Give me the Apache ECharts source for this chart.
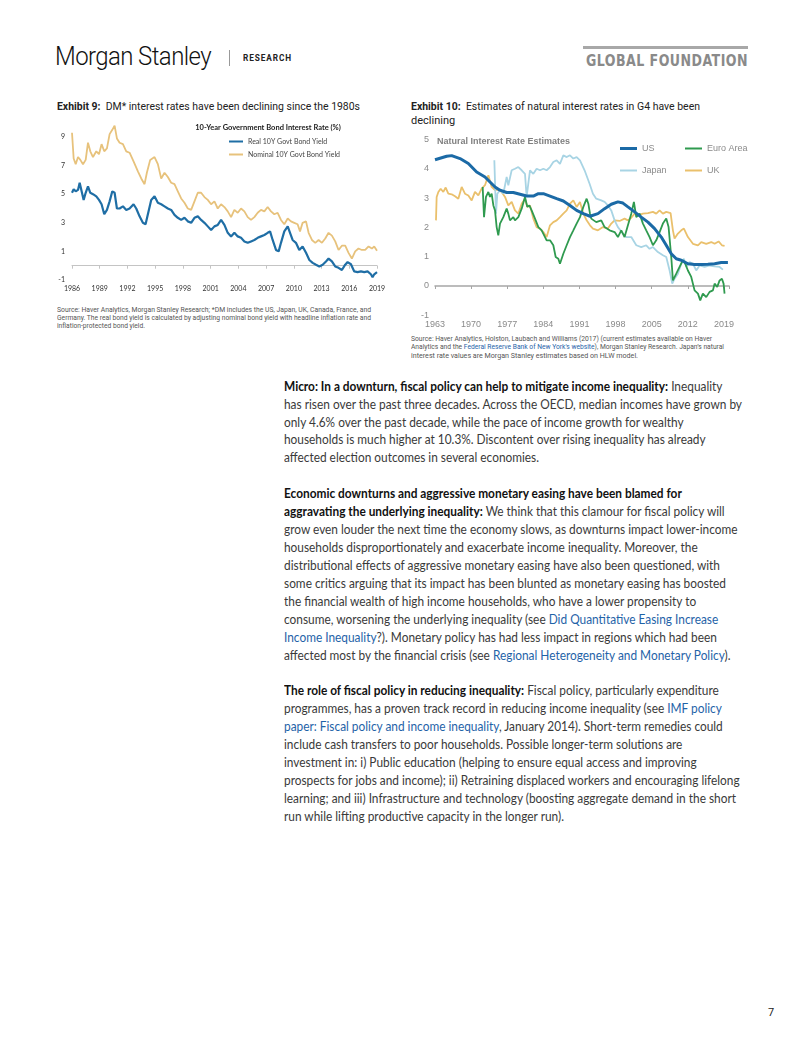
<!DOCTYPE html>
<html><head><meta charset="utf-8">
<script src="https://cdn.jsdelivr.net/npm/echarts/dist/echarts.min.js"></script>
<style>
body{margin:0;width:802px;height:1037px;position:relative;background:#fff;overflow:hidden;font-family:Lato,sans-serif;}
.t{position:absolute;white-space:nowrap;transform-origin:0 50%;}
.ex{font-family:Roboto,sans-serif;font-size:11px;line-height:14px;color:#222;}
.src{font-family:Roboto,sans-serif;font-size:7px;line-height:9px;color:#555;}
.body{font-family:Lato,sans-serif;font-size:12.5px;line-height:18px;color:#3a3a3a;}
.body b{color:#111;font-weight:700;}
.lk{color:#1f63a8;}
#c1{position:absolute;left:50px;top:110px;width:340px;height:190px;}
#c2{position:absolute;left:405px;top:128px;width:350px;height:205px;}
</style></head>
<body>
<div class="t" style="left:55px;top:43px;font:300 25px Roboto,sans-serif;line-height:28px;color:#111;letter-spacing:-0.6px" data-w="156">Morgan Stanley</div>
<div style="position:absolute;left:229px;top:50px;width:1px;height:16px;background:#999"></div>
<div class="t" style="left:243px;top:52px;font:700 9px Roboto,sans-serif;line-height:12px;color:#222;letter-spacing:1px" data-w="49">RESEARCH</div>
<div style="position:absolute;left:583px;top:46px;width:165px;height:3px;background:#a8a8a8"></div>
<div class="t" style="left:586px;top:52px;font:700 15px 'DejaVu Sans Condensed','Liberation Sans Narrow',Roboto,sans-serif;line-height:18px;color:#8a8a8a;letter-spacing:0.5px" data-w="162">GLOBAL FOUNDATION</div>

<div class="t ex" style="left:57px;top:100px" data-w="303"><b>Exhibit 9:</b>&nbsp; DM* interest rates have been declining since the 1980s</div>
<div class="t ex" style="left:411px;top:100px" data-w="289"><b>Exhibit 10:</b>&nbsp; Estimates of natural interest rates in G4 have been</div>
<div class="t ex" style="left:411px;top:114px">declining</div>

<div id="c1"></div>
<div id="c2"></div>

<div class="t src" style="left:57px;top:305.5px" data-w="314">Source: Haver Analytics, Morgan Stanley Research; *DM includes the US, Japan, UK, Canada, France, and</div>
<div class="t src" style="left:57px;top:314px" data-w="314">Germany. The real bond yield is calculated by adjusting nominal bond yield with headline inflation rate and</div>
<div class="t src" style="left:57px;top:322px" data-w="88">inflation-protected bond yield.</div>

<div class="t src" style="left:411px;top:334.5px" data-w="301">Source: Haver Analytics, Holston, Laubach and Williams (2017) (current estimates available on Haver</div>
<div class="t src" style="left:411px;top:343px" data-w="313">Analytics and the <span class="lk">Federal Reserve Bank of New York's website</span>), Morgan Stanley Research. Japan’s natural</div>
<div class="t src" style="left:411px;top:351.5px" data-w="227">interest rate values are Morgan Stanley estimates based on HLW model.</div>

<div id="bodytext"></div>
<div class="t" style="left:768px;top:1006px;font:400 11px Roboto,sans-serif;line-height:14px;color:#222">7</div>

<script>
// ---------- Exhibit 9 data: [year, %] ----------
const c1YearTicks = {min: 1986, max: 2019, step: 3};
const realYield = [[1986.00,5.1],[1986.18,5.35],[1986.40,5.2],[1986.65,5.3],[1986.83,5.8],[1987.04,5.85],[1987.26,4.6],[1987.48,5.1],[1987.73,5.55],[1987.98,5.1],[1988.27,5.0],[1988.63,4.85],[1988.92,4.6],[1989.20,4.3],[1989.49,3.6],[1989.78,3.9],[1990.07,4.5],[1990.36,5.2],[1990.61,5.1],[1990.86,4.0],[1991.15,4.0],[1991.51,4.15],[1991.87,3.9],[1992.23,4.0],[1992.66,4.3],[1992.95,4.0],[1993.31,3.45],[1993.67,3.0],[1993.96,2.9],[1994.21,3.6],[1994.57,4.6],[1994.93,4.85],[1995.29,4.4],[1995.65,4.3],[1996.01,4.15],[1996.37,4.0],[1996.73,3.9],[1997.09,3.55],[1997.45,3.35],[1997.81,3.2],[1998.17,3.35],[1998.53,3.1],[1998.89,3.0],[1999.25,3.35],[1999.61,3.45],[1999.97,3.2],[2000.33,3.0],[2000.69,2.75],[2001.05,2.5],[2001.41,2.75],[2001.77,2.85],[2002.13,3.2],[2002.49,2.85],[2002.85,2.3],[2003.21,2.05],[2003.57,2.3],[2003.93,2.05],[2004.29,1.95],[2004.65,1.7],[2005.01,1.6],[2005.37,1.7],[2005.73,1.8],[2006.09,1.95],[2006.45,2.05],[2006.81,2.15],[2007.17,2.3],[2007.43,2.4],[2007.71,1.8],[2008.07,1.1],[2008.36,1.0],[2008.61,1.6],[2008.97,2.4],[2009.34,2.75],[2009.59,2.3],[2009.87,1.8],[2010.23,1.6],[2010.59,1.1],[2010.95,1.35],[2011.32,0.9],[2011.68,0.4],[2012.04,0.2],[2012.40,0.07],[2012.76,-0.05],[2013.12,0.07],[2013.48,0.3],[2013.76,0.5],[2014.12,0.3],[2014.48,-0.05],[2014.84,-0.15],[2015.20,-0.3],[2015.56,0.07],[2015.82,0.25],[2016.18,0.1],[2016.54,-0.4],[2016.90,-0.45],[2017.26,-0.4],[2017.62,-0.45],[2017.98,-0.4],[2018.34,-0.6],[2018.52,-0.8],[2018.70,-0.6],[2019.00,-0.45]];
const nominalYield = [[1986.00,9.3],[1986.18,7.5],[1986.40,7.1],[1986.65,7.6],[1986.90,7.4],[1987.19,7.1],[1987.48,7.4],[1987.73,8.6],[1987.98,8.0],[1988.27,7.6],[1988.63,8.0],[1988.92,7.8],[1989.20,8.5],[1989.49,8.0],[1989.78,8.2],[1990.07,9.2],[1990.36,9.5],[1990.61,9.8],[1990.86,8.9],[1991.15,8.6],[1991.51,8.5],[1991.87,8.0],[1992.23,7.9],[1992.66,7.3],[1993.13,6.6],[1993.49,6.1],[1993.85,5.7],[1994.10,6.5],[1994.46,7.4],[1994.93,7.6],[1995.29,7.1],[1995.65,6.1],[1996.01,6.5],[1996.37,6.2],[1996.73,5.8],[1997.09,5.7],[1997.45,5.2],[1997.81,4.7],[1998.17,4.4],[1998.53,4.0],[1998.89,3.9],[1999.25,4.5],[1999.61,5.1],[1999.97,5.1],[2000.33,4.8],[2000.69,4.6],[2001.05,4.3],[2001.41,4.5],[2001.77,4.0],[2002.13,4.3],[2002.49,4.1],[2002.85,3.8],[2003.21,3.4],[2003.57,3.9],[2003.93,3.7],[2004.29,4.0],[2004.65,3.8],[2005.01,3.4],[2005.37,3.2],[2005.73,3.4],[2006.09,3.7],[2006.45,3.9],[2006.81,3.8],[2007.17,4.1],[2007.53,3.8],[2007.89,3.6],[2008.25,3.7],[2008.61,3.2],[2008.97,2.9],[2009.34,3.3],[2009.69,3.1],[2010.05,3.0],[2010.41,2.9],[2010.67,2.4],[2010.95,3.0],[2011.32,3.1],[2011.60,2.3],[2011.96,1.8],[2012.32,1.6],[2012.68,1.8],[2013.04,1.6],[2013.40,1.9],[2013.76,2.3],[2014.12,2.1],[2014.48,1.7],[2014.84,1.1],[2015.20,1.4],[2015.56,1.4],[2015.92,0.9],[2016.28,0.5],[2016.64,1.0],[2017.00,1.2],[2017.36,1.1],[2017.72,1.1],[2018.09,1.35],[2018.45,1.2],[2018.70,1.35],[2019.00,1.05]];

// ---------- Exhibit 10 data: [year, %] ----------
const c2YearTicks = {min: 1963, max: 2020, step: 7};
const usRate = [[1963.0,4.31],[1965.26,4.43],[1966.23,4.45],[1967.85,4.35],[1969.46,4.18],[1971.07,3.89],[1972.69,3.72],[1973.66,3.55],[1974.63,3.38],[1975.60,3.27],[1976.89,3.19],[1978.18,3.19],[1979.47,3.13],[1980.76,3.07],[1982.06,3.07],[1983.03,3.15],[1984.00,3.15],[1985.29,3.07],[1986.58,2.98],[1987.87,2.90],[1989.16,2.75],[1990.45,2.58],[1991.75,2.47],[1993.04,2.38],[1994.58,2.47],[1995.87,2.64],[1997.16,2.79],[1998.45,2.87],[1999.42,2.83],[2000.39,2.70],[2001.68,2.53],[2002.97,2.35],[2004.27,2.18],[2005.56,1.96],[2006.85,1.67],[2007.82,1.39],[2008.79,1.10],[2009.76,0.93],[2010.73,0.88],[2012.02,0.76],[2013.31,0.73],[2014.60,0.73],[2015.89,0.74],[2017.19,0.76],[2018.48,0.80],[2019.77,0.80]];
const euroRate = [[1972.24,3.38],[1972.50,2.35],[1972.88,3.04],[1973.34,3.21],[1973.66,3.04],[1973.98,3.15],[1974.31,2.75],[1974.63,2.58],[1974.95,2.01],[1975.27,1.73],[1975.60,2.13],[1976.24,2.35],[1976.89,2.64],[1977.21,2.47],[1977.53,2.24],[1978.18,2.35],[1978.50,2.24],[1979.15,2.35],[1979.80,2.64],[1980.44,3.04],[1980.89,2.70],[1981.28,2.75],[1981.73,2.58],[1982.38,2.30],[1983.03,2.01],[1983.67,1.90],[1984.00,1.96],[1984.64,1.56],[1985.29,1.56],[1985.93,1.39],[1986.39,0.99],[1986.90,0.93],[1987.22,0.76],[1987.55,0.82],[1987.87,1.10],[1988.52,1.39],[1989.16,1.67],[1989.81,1.90],[1990.45,2.13],[1991.10,2.35],[1991.75,2.70],[1992.39,2.98],[1992.72,2.81],[1993.04,2.47],[1993.29,2.30],[1994.25,2.18],[1995.22,2.24],[1995.87,2.01],[1996.84,1.90],[1997.81,1.84],[1998.45,1.67],[1999.10,1.90],[1999.74,1.67],[2000.39,2.07],[2001.04,2.47],[2001.55,2.87],[2002.01,2.35],[2002.65,2.47],[2003.30,2.13],[2003.94,1.90],[2004.59,1.67],[2005.24,1.39],[2005.88,1.56],[2006.53,1.84],[2007.17,2.13],[2007.82,2.30],[2008.27,2.01],[2008.79,0.99],[2009.11,0.19],[2009.76,0.42],[2010.40,0.65],[2011.05,0.88],[2011.50,0.76],[2012.02,0.53],[2012.66,0.31],[2013.31,-0.15],[2013.96,-0.26],[2014.41,-0.49],[2014.92,-0.26],[2015.57,-0.38],[2016.22,-0.20],[2016.86,-0.15],[2017.19,0.08],[2017.70,-0.03],[2018.16,0.19],[2018.61,0.25],[2018.93,0.08],[2019.12,-0.26]];
const japanRate = [[1974.50,4.29],[1974.82,2.47],[1975.08,3.15],[1975.60,3.27],[1976.24,3.15],[1976.89,3.72],[1977.21,3.44],[1977.86,3.95],[1978.50,4.00],[1979.15,4.06],[1979.80,3.95],[1980.44,3.83],[1980.76,3.04],[1981.41,3.95],[1982.06,3.83],[1982.70,4.00],[1983.35,3.95],[1984.00,4.00],[1984.64,3.95],[1985.29,4.06],[1985.93,4.23],[1986.58,4.29],[1987.22,4.17],[1987.87,4.46],[1988.52,4.40],[1989.16,4.46],[1989.81,4.35],[1990.45,4.40],[1991.10,4.29],[1991.99,3.95],[1992.96,3.49],[1993.61,3.15],[1994.25,2.98],[1995.22,2.92],[1995.87,2.87],[1996.51,2.75],[1997.16,2.58],[1997.81,2.24],[1998.45,2.01],[1999.42,1.79],[2000.07,1.67],[2001.04,1.67],[2002.01,1.39],[2002.97,1.33],[2003.94,1.39],[2004.59,1.27],[2005.24,1.33],[2006.20,1.16],[2007.17,1.05],[2007.82,0.99],[2008.47,0.53],[2008.98,0.08],[2009.43,0.25],[2010.08,0.42],[2010.73,0.76],[2011.24,0.93],[2011.70,0.65],[2012.34,0.82],[2012.99,0.76],[2013.63,0.53],[2014.28,0.70],[2015.25,0.65],[2016.22,0.70],[2017.19,0.67],[2018.16,0.65],[2018.80,0.56]];
const ukRate = [[1963.19,2.24],[1963.32,3.04],[1963.65,3.21],[1964.10,3.32],[1964.61,3.21],[1965.07,3.36],[1965.58,3.15],[1966.23,3.13],[1966.88,3.06],[1967.52,2.98],[1968.17,3.38],[1968.81,3.15],[1969.46,3.09],[1970.11,2.92],[1970.75,3.21],[1971.40,3.09],[1972.04,3.32],[1972.69,3.44],[1973.34,3.78],[1973.98,3.38],[1974.63,3.27],[1975.27,3.29],[1975.92,3.21],[1976.57,3.04],[1977.21,2.75],[1977.86,2.87],[1978.50,2.58],[1979.15,2.47],[1979.80,2.81],[1980.44,2.98],[1980.89,2.70],[1981.41,2.75],[1982.06,2.30],[1982.70,2.01],[1983.35,1.96],[1984.00,1.84],[1984.64,1.67],[1985.29,2.07],[1985.93,2.18],[1986.58,2.24],[1987.22,2.35],[1987.87,2.47],[1988.52,2.58],[1989.16,2.81],[1989.81,2.92],[1990.45,2.70],[1991.10,2.87],[1991.75,2.47],[1992.39,2.24],[1993.04,2.07],[1993.61,1.96],[1994.58,1.90],[1995.55,2.01],[1996.51,1.96],[1997.16,2.13],[1997.81,2.24],[1998.78,2.22],[1999.74,2.30],[2000.39,2.24],[2001.04,2.33],[2001.68,2.47],[2002.33,2.41],[2003.30,2.47],[2004.27,2.49],[2005.24,2.53],[2005.88,2.47],[2006.53,2.58],[2007.17,2.47],[2007.82,2.53],[2008.66,2.49],[2009.11,1.90],[2009.43,1.62],[2010.08,1.79],[2010.73,1.90],[2011.24,1.96],[2012.02,1.67],[2012.99,1.44],[2013.96,1.39],[2014.60,1.50],[2015.57,1.44],[2016.54,1.50],[2017.19,1.44],[2017.96,1.52],[2018.61,1.39],[2019.12,1.37]];

// ---------- Body text ----------
const bodyLines = [
 '<b>Micro: In a downturn, fiscal policy can help to mitigate income inequality:</b> Inequality',
 'has risen over the past three decades. Across the OECD, median incomes have grown by',
 'only 4.6% over the past decade, while the pace of income growth for wealthy',
 'households is much higher at 10.3%. Discontent over rising inequality has already',
 'affected election outcomes in several economies.',
 '',
 '<b>Economic downturns and aggressive monetary easing have been blamed for</b>',
 '<b>aggravating the underlying inequality:</b> We think that this clamour for fiscal policy will',
 'grow even louder the next time the economy slows, as downturns impact lower-income',
 'households disproportionately and exacerbate income inequality. Moreover, the',
 'distributional effects of aggressive monetary easing have also been questioned, with',
 'some critics arguing that its impact has been blunted as monetary easing has boosted',
 'the financial wealth of high income households, who have a lower propensity to',
 'consume, worsening the underlying inequality (see <span class="lk">Did Quantitative Easing Increase</span>',
 '<span class="lk">Income Inequality</span>?). Monetary policy has had less impact in regions which had been',
 'affected most by the financial crisis (see <span class="lk">Regional Heterogeneity and Monetary Policy</span>).',
 '',
 '<b>The role of fiscal policy in reducing inequality:</b> Fiscal policy, particularly expenditure',
 'programmes, has a proven track record in reducing income inequality (see <span class="lk">IMF policy</span>',
 '<span class="lk">paper: Fiscal policy and income inequality</span>, January 2014). Short-term remedies could',
 'include cash transfers to poor households. Possible longer-term solutions are',
 'investment in: i) Public education (helping to ensure equal access and improving',
 'prospects for jobs and income); ii) Retraining displaced workers and encouraging lifelong',
 'learning; and iii) Infrastructure and technology (boosting aggregate demand in the short',
 'run while lifting productive capacity in the longer run).'
];

const bt = document.getElementById('bodytext');
const bodyEls = [];
bodyLines.forEach((s, i) => {
  if (!s) return;
  const d = document.createElement('div');
  d.className = 't body';
  d.style.left = '284px';
  d.style.top = (377.7 + i * 17.92) + 'px';
  d.innerHTML = s;
  bt.appendChild(d);
  bodyEls[i] = d;
});
// scale body text uniformly to match reference line width (line 2 ≈ 458px)
const refW = 458;
const w1 = bodyEls[1].getBoundingClientRect().width;
const k = refW / w1;
bodyEls.forEach(e => { if (e) e.style.transform = 'scaleX(' + k + ')'; });
document.querySelectorAll('[data-w]').forEach(e => {
  const w = e.getBoundingClientRect().width;
  e.style.transform = 'scaleX(' + (parseFloat(e.dataset.w) / w) + ')';
});

// ---------- Chart 1 ----------
const ch1 = echarts.init(document.getElementById('c1'), null, {renderer: 'canvas'});
const f1 = 'Lato, sans-serif';
ch1.setOption({
  animation: false,
  title: {text: '10-Year Government Bond Interest Rate (%)', left: 218, top: 14, padding: 0, textAlign: 'center',
    textStyle: {fontFamily: f1, fontSize: 7.5, fontWeight: 'bold', color: '#222'}},
  legend: [
    {data: ['Real 10Y Govt Bond Yield'], left: 179, top: 28, padding: 0, icon: 'rect', itemWidth: 14, itemHeight: 2,
      textStyle: {fontFamily: f1, fontSize: 7, color: '#444'}},
    {data: ['Nominal 10Y Govt Bond Yield'], left: 179, top: 41, padding: 0, icon: 'rect', itemWidth: 14, itemHeight: 2,
      textStyle: {fontFamily: f1, fontSize: 7, color: '#444'}}
  ],
  grid: {left: 22, right: 13, top: 5.55, bottom: 20},
  xAxis: [
    {type: 'value', min: c1YearTicks.min, max: c1YearTicks.max, interval: c1YearTicks.step, position: 'bottom',
      axisLine: {show: false, onZero: false}, axisTick: {show: false}, splitLine: {show: false},
      axisLabel: {fontFamily: f1, fontSize: 7, color: '#333', margin: 5, formatter: v => String(v)}},
    {type: 'value', min: c1YearTicks.min, max: c1YearTicks.max, interval: c1YearTicks.step, position: 'top',
      axisLine: {show: true, onZero: true, lineStyle: {color: '#c4c4c4', width: 1}},
      axisTick: {show: true, inside: true, length: 3, lineStyle: {color: '#c4c4c4'}},
      axisLabel: {show: false}, splitLine: {show: false}}
  ],
  yAxis: {type: 'value', min: -1, max: 10.5, interval: 2,
    axisLine: {show: false}, axisTick: {show: false}, splitLine: {show: false},
    axisLabel: {fontFamily: f1, fontSize: 7, color: '#333', margin: 7, showMaxLabel: false}},
  series: [
    {name: 'Real 10Y Govt Bond Yield', type: 'line', data: realYield, showSymbol: false, symbol: 'none',
      lineStyle: {color: '#1f6ea5', width: 2.2}, itemStyle: {color: '#1f6ea5'}, z: 3},
    {name: 'Nominal 10Y Govt Bond Yield', type: 'line', data: nominalYield, showSymbol: false, symbol: 'none',
      lineStyle: {color: '#e7c27c', width: 1.8}, itemStyle: {color: '#e7c27c'}, z: 2}
  ]
});

// ---------- Chart 2 ----------
const ch2 = echarts.init(document.getElementById('c2'), null, {renderer: 'canvas'});
const f2 = '"Liberation Sans", Arial, sans-serif';
const lg = (name, left, top, h) => ({data: [name], left, top, padding: 0, icon: 'rect', itemWidth: 17, itemHeight: h,
  textStyle: {fontFamily: f2, fontSize: 9, color: '#8a8a8a'}});
ch2.setOption({
  animation: false,
  title: {text: 'Natural Interest Rate Estimates', left: 32, top: 9, padding: 0,
    textStyle: {fontFamily: f2, fontSize: 9, fontWeight: 'bold', color: '#808080'}},
  legend: [lg('US', 215, 16, 3), lg('Euro Area', 280, 16, 2), lg('Japan', 215, 38, 2), lg('UK', 280, 38, 2)],
  grid: {left: 30, right: 25.9, top: 11.5, bottom: 17.7},
  xAxis: [
    {type: 'value', min: c2YearTicks.min, max: c2YearTicks.max, interval: c2YearTicks.step, position: 'bottom',
      axisLine: {show: false, onZero: false}, axisTick: {show: false}, splitLine: {show: false},
      axisLabel: {fontFamily: f2, fontSize: 9, color: '#8a8a8a', margin: 5, showMaxLabel: false, formatter: v => String(v)}},
    {type: 'value', min: c2YearTicks.min, max: c2YearTicks.max, interval: c2YearTicks.step, position: 'top',
      axisLine: {show: true, onZero: true, lineStyle: {color: '#a6a6a6', width: 1.5}},
      axisTick: {show: true, inside: true, length: 3, lineStyle: {color: '#a6a6a6'}},
      axisLabel: {show: false}, splitLine: {show: false}}
  ],
  yAxis: {type: 'value', min: -1, max: 5, interval: 1,
    axisLine: {show: false}, axisTick: {show: false}, splitLine: {show: false},
    axisLabel: {fontFamily: f2, fontSize: 9, color: '#8a8a8a', margin: 6}},
  series: [
    {name: 'UK', type: 'line', data: ukRate, symbol: 'none', lineStyle: {color: '#eac06c', width: 1.8}, itemStyle: {color: '#eac06c'}, z: 2},
    {name: 'Japan', type: 'line', data: japanRate, symbol: 'none', lineStyle: {color: '#a8d4e4', width: 1.8}, itemStyle: {color: '#a8d4e4'}, z: 3},
    {name: 'Euro Area', type: 'line', data: euroRate, symbol: 'none', lineStyle: {color: '#2f9a4f', width: 1.8}, itemStyle: {color: '#2f9a4f'}, z: 4},
    {name: 'US', type: 'line', data: usRate, symbol: 'none', lineStyle: {color: '#1b6aa6', width: 3}, itemStyle: {color: '#1b6aa6'}, z: 5}
  ]
});
</script>
</body></html>
